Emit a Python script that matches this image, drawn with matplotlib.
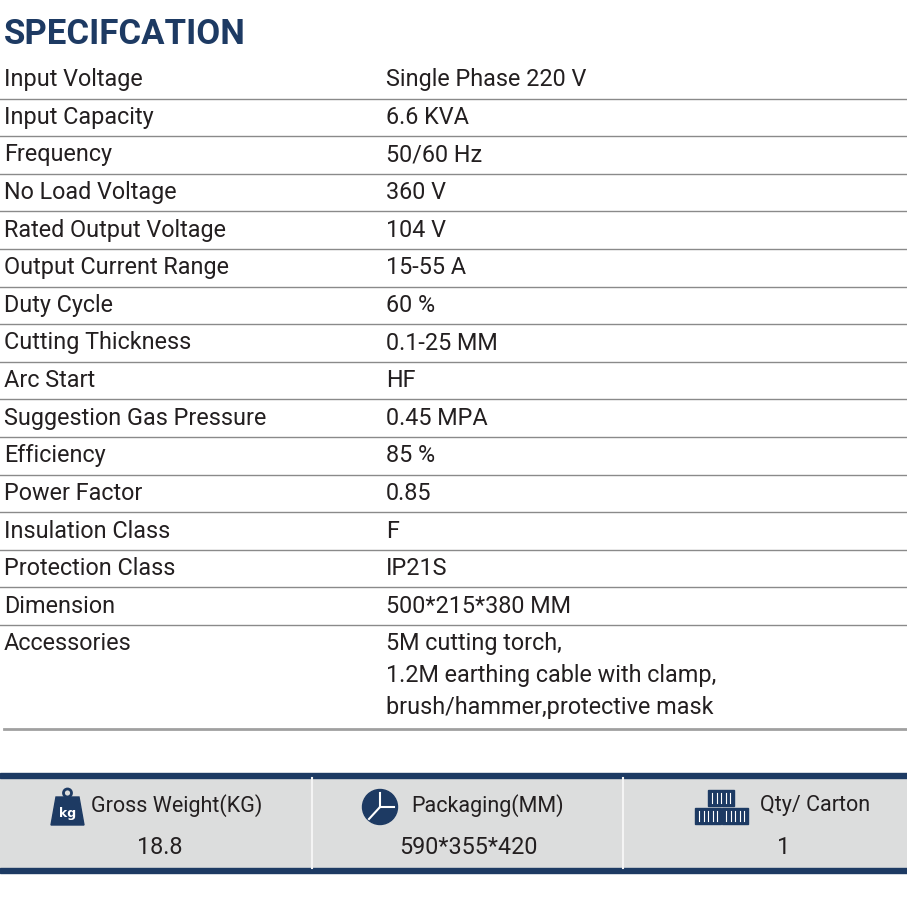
import matplotlib.pyplot as plt
from matplotlib.patches import Rectangle, Circle, Polygon

labels = ["Input Voltage", "Input Capacity", "Frequency", "No Load Voltage",
          "Rated Output Voltage", "Output Current Range", "Duty Cycle",
          "Cutting Thickness", "Arc Start", "Suggestion Gas Pressure",
          "Efficiency", "Power Factor", "Insulation Class", "Protection Class",
          "Dimension", "Accessories"]
values = ["Single Phase 220 V", "6.6 KVA", "50/60 Hz", "360 V", "104 V",
          "15-55 A", "60 %", "0.1-25 MM", "HF", "0.45 MPA", "85 %", "0.85",
          "F", "IP21S", "500*215*380 MM",
          "5M cutting torch,\n1.2M earthing cable with clamp,\nbrush/hammer,protective mask"]
footer_heads = ["Gross Weight(KG)", "Packaging(MM)", "Qty/ Carton"]
footer_vals = ["18.8", "590*355*420", "1"]

navy = "#1d3a63"
txt = "#231f20"
fam = ["Roboto", "DejaVu Sans"]

fig = plt.figure(figsize=(9.07, 9.0), dpi=100)
ax = fig.add_axes([0, 0, 1, 1])
ax.set_xlim(0, 907)
ax.set_ylim(900, 0)
ax.axis("off")

ax.text(4, 34, "SPECIFCATION", fontsize=25, fontweight="bold", color=navy,
        va="center", ha="left", family=fam)

row_h = 37.6
y0 = 61
for i, (lab, val) in enumerate(zip(labels, values)):
    yc = y0 + row_h * i + row_h / 2
    ax.text(4, yc, lab, fontsize=16.8, color=txt, va="center", family=fam)
    for j, line in enumerate(val.split("\n")):
        ax.text(386, yc + j * 32, line, fontsize=16.8, color=txt, va="center", family=fam)
    if i < len(labels) - 1:
        ax.plot([0, 907], [y0 + row_h * (i + 1)] * 2, color="#8a8a8a", lw=1)
ax.plot([4, 907], [729, 729], color="#a0a0a0", lw=2)

# footer band
ax.add_patch(Rectangle((0, 778), 907, 90, color="#dcdddd", zorder=0))
ax.add_patch(Rectangle((0, 773), 907, 5, color=navy))
ax.add_patch(Rectangle((0, 868), 907, 5, color=navy))
for x in [312, 623]:
    ax.plot([x, x], [778, 868], color="#f4f4f4", lw=1.5)

head_x = [91, 411, 760]
centers = [160, 468, 784]
for hx, c, h, v in zip(head_x, centers, footer_heads, footer_vals):
    ax.text(hx, 806, h, fontsize=15.5, color=txt, ha="left", va="center", family=fam)
    ax.text(c, 848, v, fontsize=16.8, color=txt, ha="center", va="center", family=fam)

# weight icon
ax.add_patch(Polygon([[51, 825], [84, 825], [79, 797], [56, 797]], color=navy))
ax.add_patch(Circle((67.5, 793), 4, fill=False, ec=navy, lw=2))
ax.text(67.5, 813, "kg", fontsize=9, color="white", fontweight="bold", ha="center", va="center")
# packaging icon
ax.add_patch(Circle((380, 807), 17.5, color=navy))
ax.plot([380, 380], [807, 793], color="white", lw=1.5)
ax.plot([380, 394], [807, 807], color="white", lw=1.5)
ax.plot([380, 369], [807, 819], color="white", lw=1.5)
# carton icon
for bx, by in [(708, 790), (695, 808), (722, 808)]:
    ax.add_patch(Rectangle((bx, by), 26, 16, color=navy))
    for k in range(5):
        ax.plot([bx + 4 + k * 4.5] * 2, [by + 3, by + 13], color="white", lw=0.8)

fig.savefig("out.png", dpi=100)
